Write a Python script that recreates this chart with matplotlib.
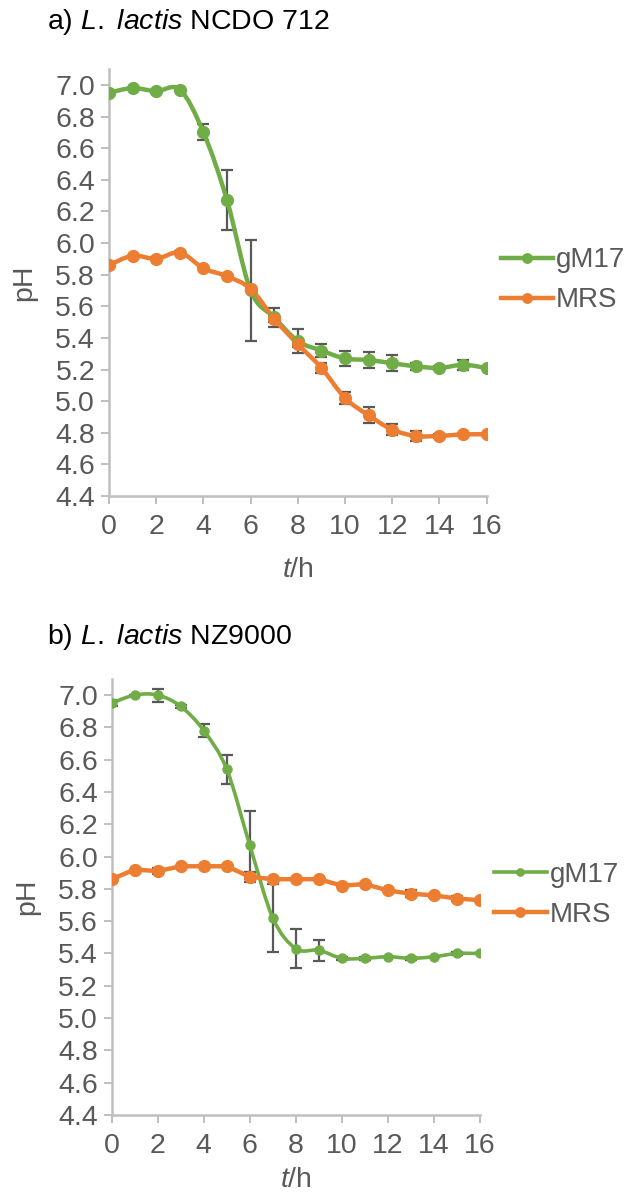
import numpy as np
import matplotlib
matplotlib.use('Agg')
import matplotlib.pyplot as plt
from matplotlib.path import Path
from matplotlib.patches import PathPatch
from matplotlib.lines import Line2D

plt.rcParams['font.family'] = ['Liberation Sans', 'DejaVu Sans']
plt.rcParams['mathtext.fontset'] = 'custom'
plt.rcParams['mathtext.rm'] = 'Liberation Sans'
plt.rcParams['mathtext.it'] = 'Liberation Sans:italic'

# tempo (h)
horas = list(range(17))

# a) L. lactis NCDO 712
a_gm17 = [6.95, 6.98, 6.96, 6.97, 6.70, 6.27, 5.70, 5.53, 5.38, 5.32, 5.27,
          5.26, 5.24, 5.22, 5.21, 5.23, 5.21]
a_gm17_err = [0.01, 0.0, 0.01, 0.01, 0.05, 0.19, 0.32, 0.06, 0.075, 0.04, 0.05,
              0.05, 0.05, 0.02, 0.01, 0.03, 0.0]
a_mrs = [5.86, 5.92, 5.90, 5.94, 5.84, 5.79, 5.71, 5.52, 5.36, 5.21, 5.02,
         4.91, 4.82, 4.78, 4.78, 4.79, 4.79]
a_mrs_err = [0.02, 0.0, 0.01, 0.01, 0.0, 0.0, 0.0, 0.02, 0.02, 0.03, 0.04,
             0.05, 0.035, 0.03, 0.01, 0.01, 0.0]

# b) L. lactis NZ9000
b_gm17 = [6.95, 7.00, 7.00, 6.93, 6.78, 6.54, 6.07, 5.62, 5.43, 5.42, 5.37,
          5.37, 5.38, 5.37, 5.38, 5.40, 5.40]
b_gm17_err = [0.02, 0.0, 0.04, 0.01, 0.04, 0.09, 0.21, 0.21, 0.12, 0.065, 0.01,
              0.01, 0.0, 0.01, 0.0, 0.01, 0.0]
b_mrs = [5.86, 5.92, 5.91, 5.94, 5.94, 5.94, 5.875, 5.86, 5.86, 5.86, 5.82,
         5.83, 5.79, 5.77, 5.76, 5.74, 5.73]
b_mrs_err = [0.02, 0.0, 0.02, 0.0, 0.0, 0.0, 0.03, 0.0, 0.0, 0.0, 0.0,
             0.0, 0.0, 0.02, 0.01, 0.015, 0.0]

titulos = [r'a) $\mathit{L.}$ $\mathit{lactis}$ NCDO 712',
           r'b) $\mathit{L.}$ $\mathit{lactis}$ NZ9000']

VERDE = '#70AD47'
LARANJA = '#ED7D31'
CINZA = '#595959'
EIXO = '#BFBFBF'
FS = 20.5


def linha_suave(ax, x, y, cor, lw):
    # curva suavizada estilo Excel (Bezier cubica)
    x = np.asarray(x, float)
    y = np.asarray(y, float)
    n = len(x)
    verts = [(x[0], y[0])]
    codes = [Path.MOVETO]
    for i in range(n - 1):
        x0, y0 = (x[i - 1], y[i - 1]) if i > 0 else (x[i], y[i])
        x3, y3 = (x[i + 2], y[i + 2]) if i + 2 < n else (x[i + 1], y[i + 1])
        c1 = (x[i] + (x[i + 1] - x0) / 6, y[i] + (y[i + 1] - y0) / 6)
        c2 = (x[i + 1] - (x3 - x[i]) / 6, y[i + 1] - (y3 - y[i]) / 6)
        verts += [c1, c2, (x[i + 1], y[i + 1])]
        codes += [Path.CURVE4] * 3
    ax.add_patch(PathPatch(Path(verts, codes), fill=False, edgecolor=cor,
                           lw=lw, capstyle='round', joinstyle='round', zorder=3))


def painel(ax, series):
    for y, err, cor, suave, ms, lw in series:
        ax.errorbar(horas, y, yerr=err, fmt='none', ecolor=CINZA, elinewidth=1.6,
                    capsize=4.5, capthick=1.6, zorder=2)
        if suave:
            linha_suave(ax, horas, y, cor, lw)
        else:
            ax.plot(horas, y, color=cor, lw=lw, zorder=3)
        ax.plot(horas, y, 'o', color=cor, ms=ms, zorder=4)

    ax.set_xlim(0, 16)
    ax.set_ylim(4.4, 7.1)
    ax.set_xticks(range(0, 17, 2))
    ax.set_yticks(np.round(np.arange(4.4, 7.01, 0.2), 1))
    ax.yaxis.set_major_formatter(plt.FormatStrFormatter('%.1f'))
    for s in ['top', 'right']:
        ax.spines[s].set_visible(False)
    for s in ['left', 'bottom']:
        ax.spines[s].set_color(EIXO)
        ax.spines[s].set_linewidth(1.8)
    ax.tick_params(axis='both', colors=EIXO, width=1.4, length=6,
                   labelcolor=CINZA, labelsize=FS)
    ax.tick_params(axis='y', pad=4)
    ax.tick_params(axis='x', pad=7)
    ax.set_ylabel('pH', fontsize=FS, color=CINZA, labelpad=13)
    ax.set_xlabel(r'$\mathit{t}$/h', fontsize=FS, color=CINZA, labelpad=12)

    handles = [Line2D([], [], color=c, lw=lw, marker='o', ms=ms * 0.8)
               for _, _, c, _, ms, lw in series]
    ax.legend(handles, ['gM17', 'MRS'], loc='center left',
              bbox_to_anchor=(1.0, 0.505), frameon=False, fontsize=20,
              labelcolor=CINZA, handlelength=1.9, handletextpad=0.1,
              labelspacing=0.5, borderaxespad=0.1)


fig = plt.figure(figsize=(6.32, 11.93), dpi=100)
ax1 = fig.add_axes([0.1725, 0.5842, 0.5976, 0.3579])
ax2 = fig.add_axes([0.1767, 0.0654, 0.5828, 0.3655])

painel(ax1, [(a_gm17, a_gm17_err, VERDE, True, 8.5, 3.2),
             (a_mrs, a_mrs_err, LARANJA, True, 8.5, 3.2)])
painel(ax2, [(b_gm17, b_gm17_err, VERDE, True, 6.5, 2.6),
             (b_mrs, b_mrs_err, LARANJA, False, 8.5, 3.2)])
ax2.xaxis.labelpad = 6

fig.text(47 / 632, 1 - 22 / 1193, titulos[0], fontsize=FS, va='center', ha='left')
fig.text(47 / 632, 1 - 637 / 1193, titulos[1], fontsize=FS, va='center', ha='left')

fig.savefig('out.png', dpi=100)
plt.close(fig)
